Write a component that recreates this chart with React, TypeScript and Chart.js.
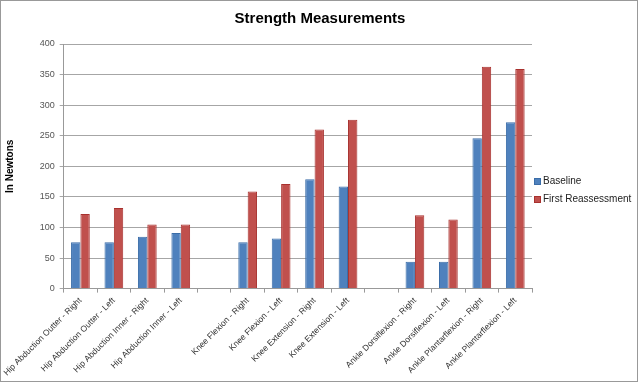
import React, { useEffect, useRef } from "react";
import { Chart, registerables } from "chart.js";

Chart.register(...registerables);

const categories = [
  "Hip Abduction Outter - Right",
  "Hip Abduction Outter - Left",
  "Hip Abduction Inner - Right",
  "Hip Abduction Inner - Left",
  "",
  "Knee Flexion - Right",
  "Knee Flexion - Left",
  "Knee Extension - Right",
  "Knee Extension - Left",
  "",
  "Ankle Dorsiflexion - Right",
  "Ankle Dorsiflexion - Left",
  "Ankle Plantarflexion - Right",
  "Ankle Plantarflexion - Left",
];

const baseline = [76, 76, 85, 91, null, 76, 82, 179, 167, null, 44, 44, 246, 272];
const firstReassessment = [122, 132, 105, 105, null, 159, 171, 260, 276, null, 120, 113, 363, 359];

const yTicks = { min: 0, max: 400, step: 50 };

const FONT = "'Liberation Sans', Arial, sans-serif";

const frame = {
  id: "frame",
  beforeDraw(chart: any) {
    const c = chart.ctx;
    c.save();
    c.fillStyle = "#fff";
    c.fillRect(0, 0, chart.width, chart.height);
    c.strokeStyle = "#999";
    c.lineWidth = 1;
    c.strokeRect(0.5, 0.5, 637, 381);
    c.restore();
  },
};

// Legend drawn beside the plot, centred on the full chart height (Excel style)
const sideLegend = {
  id: "sideLegend",
  afterDraw(chart: any) {
    const c = chart.ctx;
    const ds = chart.data.datasets;
    const spacing = 18;
    const x = chart.chartArea.right + 2;
    c.save();
    c.font = `10px ${FONT}`;
    c.textBaseline = "middle";
    c.textAlign = "left";
    ds.forEach((d: any, i: number) => {
      const y = chart.height / 2 + (i - (ds.length - 1) / 2) * spacing - 1;
      c.fillStyle = d.backgroundColor;
      c.fillRect(x, y - 3.5, 7, 7);
      c.strokeStyle = d.borderColor;
      c.lineWidth = 1;
      c.strokeRect(x + 0.5, y - 3, 6, 6);
      c.fillStyle = "#222";
      c.fillText(d.label, x + 9, y);
    });
    c.restore();
  },
};

export default function App() {
  const ref = useRef<HTMLCanvasElement | null>(null);

  useEffect(() => {
    document.body.style.margin = "0";
    const ctx = ref.current!;
    const chart = new Chart(ctx, {
      type: "bar",
      data: {
        labels: categories,
        datasets: [
          {
            label: "Baseline",
            data: baseline,
            backgroundColor: "#4F81BD",
            borderColor: "#3B6DA8",
            borderWidth: 1,
            categoryPercentage: 0.56,
            barPercentage: 1.0,
          },
          {
            label: "First Reassessment",
            data: firstReassessment,
            backgroundColor: "#C0504D",
            borderColor: "#A8312E",
            borderWidth: 1,
            categoryPercentage: 0.56,
            barPercentage: 1.0,
          },
        ],
      },
      plugins: [frame, sideLegend],
      options: {
        responsive: false,
        animation: false,
        maintainAspectRatio: false,
        layout: { padding: { left: 0, right: 0, top: 0, bottom: 2 } },
        plugins: {
          title: {
            display: true,
            text: "Strength Measurements",
            color: "#000",
            font: { family: FONT, size: 15, weight: "bold" },
            padding: { top: 10, bottom: 16 },
          },
          legend: { display: false },
          tooltip: { enabled: false },
        },
        scales: {
          x: {
            grid: {
              display: true,
              drawOnChartArea: false,
              drawTicks: true,
              tickLength: 4,
              color: "#999",
              offset: true,
            },
            border: { color: "#999" },
            ticks: {
              autoSkip: false,
              minRotation: 45,
              maxRotation: 45,
              color: "#333",
              padding: 3,
              font: { family: FONT, size: 8.5 },
            },
          },
          y: {
            min: yTicks.min,
            max: yTicks.max,
            grid: { color: "#a6a6a6", tickLength: 4 },
            border: { color: "#999" },
            ticks: {
              stepSize: yTicks.step,
              color: "#555",
              padding: 5,
              font: { family: FONT, size: 9 },
            },
            title: {
              display: true,
              text: "In Newtons",
              color: "#000",
              font: { family: FONT, size: 10, weight: "bold" },
              padding: { top: 4, bottom: 18 },
            },
          },
          legendSpace: {
            type: "linear",
            position: "right",
            display: true,
            grid: { display: false, drawTicks: false },
            border: { display: false },
            ticks: { display: false },
            afterFit(scale: any) {
              scale.width = 108;
            },
          },
        },
      },
    });
    return () => chart.destroy();
  }, []);

  return <canvas ref={ref} width={640} height={383} style={{ display: "block" }} />;
}
